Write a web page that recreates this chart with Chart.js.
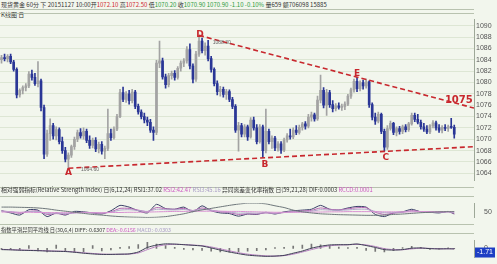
<!DOCTYPE html>
<html>
<head>
<meta charset="utf-8">
<script src="https://cdn.jsdelivr.net/npm/chart.js@4.4.0/dist/chart.umd.min.js"></script>
<style>
body { margin:0; width:497px; height:264px; overflow:hidden; position:relative; background:#f2f6ed; font-family:"Noto Sans CJK SC","Noto Sans",sans-serif; }
.txt { position:absolute; left:1px; font-size:6px; line-height:8px; color:#333; white-space:nowrap; }
.r { color:#d0262e; } .g { color:#2a9a3a; } .pk { color:#cc55c0; } .lt { color:#a99cc6; }
.hl { position:absolute; left:0; width:474px; height:0; border-top:1px solid #b8c2af; }
canvas { position:absolute; left:0; }
</style>
</head>
<body>
<div class="txt" style="top:1px">现货黄金 60分 下 20151127 10:00开<span class="r">1072.10</span> 高<span class="r">1072.50</span> 低<span class="g">1070.20</span> 收<span class="g">1070.90</span> <span class="g">1070.90 -1.10 -0.10%</span> 量659 额706098 15885</div>
<div class="hl" style="top:9px"></div>
<div class="txt" style="top:11px">K线图 日</div>
<div class="hl" style="top:13px"></div>
<canvas id="main" width="497" height="174" style="top:13px"></canvas>
<div class="hl" style="top:187px"></div>
<div class="txt" style="top:186px;font-size:5.8px">相对强弱指标(Relative Strength Index) 日(6,12,24) RSI1:37.02 <span class="pk">RSI2:42.47</span> <span class="lt">RSI3:45.16</span> 异同离差变化率指数 日(59,21,28) DIF:0.0003 <span class="pk">RCCD:0.0001</span></div>
<div class="hl" style="top:196px"></div>
<canvas id="rsi" width="497" height="27" style="top:197px"></canvas>
<div class="hl" style="top:224px"></div>
<div class="txt" style="top:226px;font-size:5.3px">指数平滑异同平均线 日(30,6,4) DIFF:-0.6307 <span class="pk">DEA:-0.6156</span> <span class="lt">MACD:-0.0303</span></div>
<div class="hl" style="top:233px"></div>
<canvas id="macd" width="497" height="30" style="top:234px"></canvas>

<script>
// 60 min candles, oldest first
var opens = [1084.0,1084.4,1084.2,1084.6,1083.6,1082.3,1077.8,1078.6,1079.1,1079.4,
  1081.5,1080.9,1079.8,1080.3,1075.6,1067.4,1071.0,1072.4,1070.6,1071.7,
  1069.6,1068.0,1066.5,1067.2,1068.7,1070.0,1071.2,1070.6,1071.4,1069.8,
  1068.9,1069.8,1068.3,1069.1,1067.9,1068.4,1071.0,1070.3,1071.8,1074.0,
  1078.2,1077.0,1078.0,1076.8,1078.3,1075.8,1074.8,1074.0,1073.4,1073.0,
  1071.6,1071.2,1083.4,1083.8,1081.0,1079.6,1081.2,1081.6,1080.9,1082.5,
  1083.4,1083.8,1085.8,1082.9,1080.6,1085.0,1087.3,1085.6,1086.4,1084.2,
  1082.3,1079.8,1078.4,1078.8,1077.9,1078.4,1077.0,1075.8,1071.6,1072.4,
  1070.9,1072.2,1070.4,1073.4,1072.0,1069.6,1072.2,1068.0,1071.4,1069.6,
  1070.2,1068.5,1069.2,1068.1,1069.9,1070.6,1070.4,1071.6,1071.2,1072.1,
  1072.7,1072.3,1073.9,1074.3,1073.6,1076.9,1078.6,1076.0,1078.2,1076.1,
  1075.4,1075.9,1075.6,1075.8,1076.2,1077.6,1078.7,1080.2,1078.9,1080.0,
  1079.4,1080.1,1076.1,1073.9,1073.2,1074.4,1071.4,1068.6,1071.9,1072.8,
  1071.2,1071.9,1071.4,1072.2,1071.7,1072.7,1074.2,1073.5,1073.0,1072.2,
  1071.8,1071.3,1072.4,1072.9,1072.0,1071.6,1072.1,1071.9,1072.2,1072.1];
var highs = [1084.8,1085.0,1084.9,1085.0,1083.9,1082.6,1078.9,1079.4,1079.8,1081.9,
  1082.2,1081.6,1083.7,1080.6,1076.0,1071.6,1073.6,1072.8,1072.2,1072.0,
  1070.4,1068.6,1067.6,1069.0,1070.4,1071.6,1071.9,1072.0,1071.8,1070.6,
  1070.2,1070.3,1069.5,1069.6,1068.8,1075.3,1071.8,1072.2,1074.4,1078.8,
  1079.2,1078.4,1078.6,1078.8,1078.6,1076.2,1075.2,1074.6,1073.9,1073.5,
  1072.2,1083.9,1087.3,1084.3,1081.5,1081.6,1082.0,1082.1,1082.8,1083.8,
  1084.2,1086.3,1086.8,1083.3,1085.5,1088.3,1087.8,1087.0,1087.4,1084.6,
  1082.6,1080.3,1079.3,1079.2,1078.8,1078.7,1077.4,1076.1,1073.0,1072.8,
  1072.6,1072.5,1073.8,1073.9,1072.6,1072.6,1072.5,1075.3,1071.8,1070.6,
  1070.5,1069.6,1069.6,1070.2,1071.0,1071.8,1072.0,1072.4,1072.5,1073.0,
  1073.1,1074.4,1074.8,1074.6,1077.6,1081.3,1079.1,1078.8,1078.6,1076.8,
  1076.3,1076.4,1076.2,1076.6,1077.9,1079.0,1080.6,1080.9,1080.3,1080.4,
  1080.6,1080.3,1076.4,1074.6,1074.8,1074.6,1071.8,1072.4,1073.2,1073.0,
  1072.2,1072.3,1072.5,1072.6,1073.0,1074.6,1074.6,1074.4,1073.4,1072.8,
  1072.4,1072.6,1073.3,1073.2,1072.6,1072.4,1072.6,1072.5,1073.7,1072.5];
var lows = [1083.4,1083.8,1083.6,1083.3,1082.0,1077.3,1077.4,1078.0,1078.5,1079.1,
  1080.4,1079.5,1079.2,1075.0,1066.6,1067.0,1069.8,1070.0,1069.9,1069.2,
  1067.5,1066.0,1064.6,1066.8,1068.2,1069.6,1070.2,1070.0,1069.4,1068.4,
  1068.5,1067.8,1067.6,1067.4,1066.6,1068.0,1069.8,1070.0,1071.5,1073.8,
  1076.6,1076.5,1076.2,1076.4,1075.4,1074.4,1073.6,1072.9,1072.4,1071.2,
  1069.8,1070.8,1082.6,1080.6,1079.0,1079.2,1080.6,1080.4,1080.6,1082.0,
  1082.8,1083.4,1082.4,1079.9,1080.2,1084.6,1085.2,1084.8,1083.8,1081.8,
  1079.4,1077.8,1077.6,1077.4,1077.0,1076.6,1075.4,1071.2,1067.9,1070.4,
  1070.4,1069.8,1070.2,1071.6,1069.2,1069.3,1066.8,1067.6,1069.2,1068.4,
  1068.0,1067.9,1067.5,1067.8,1069.5,1070.0,1070.1,1070.8,1070.9,1071.6,
  1071.8,1072.0,1073.2,1073.2,1073.3,1076.4,1075.5,1074.2,1075.6,1074.8,
  1075.0,1075.3,1075.1,1075.2,1075.9,1077.2,1078.3,1078.4,1078.5,1078.8,
  1079.0,1075.6,1073.4,1072.6,1072.9,1071.0,1067.9,1068.2,1071.6,1070.8,
  1070.6,1070.9,1071.0,1071.3,1071.4,1072.5,1073.1,1072.7,1071.8,1071.4,
  1071.0,1071.0,1072.0,1071.6,1071.2,1071.1,1071.5,1071.4,1071.9,1070.2];
var closes = [1084.4,1084.2,1084.6,1083.6,1082.3,1077.8,1078.6,1079.1,1079.4,1081.5,
  1080.9,1079.8,1080.3,1075.6,1067.4,1071.0,1072.4,1070.6,1071.7,1069.6,
  1068.0,1066.5,1067.2,1068.7,1070.0,1071.2,1070.6,1071.4,1069.8,1068.9,
  1069.8,1068.3,1069.1,1067.9,1068.4,1071.0,1070.3,1071.8,1074.0,1078.2,
  1077.0,1078.0,1076.8,1078.3,1075.8,1074.8,1074.0,1073.4,1073.0,1071.6,
  1071.2,1083.4,1083.8,1081.0,1079.6,1081.2,1081.6,1080.9,1082.5,1083.4,
  1083.8,1085.8,1082.9,1080.6,1085.0,1087.3,1085.6,1086.4,1084.2,1082.3,
  1079.8,1078.4,1078.8,1077.9,1078.4,1077.0,1075.8,1071.6,1072.4,1070.9,
  1072.2,1070.4,1073.4,1072.0,1069.6,1072.2,1068.0,1071.4,1069.6,1070.2,
  1068.5,1069.2,1068.1,1069.9,1070.6,1070.4,1071.6,1071.2,1072.1,1072.7,
  1072.3,1073.9,1074.3,1073.6,1076.9,1078.6,1076.0,1078.2,1076.1,1075.4,
  1075.9,1075.6,1075.8,1076.2,1077.6,1078.7,1080.2,1078.9,1080.0,1079.4,
  1080.1,1076.1,1073.9,1073.2,1074.4,1071.4,1068.6,1071.9,1072.8,1071.2,
  1071.9,1071.4,1072.2,1071.7,1072.7,1074.2,1073.5,1073.0,1072.2,1071.8,
  1071.3,1072.4,1072.9,1072.0,1071.6,1072.1,1071.9,1072.2,1072.1,1070.9];
var priceTicks = [1064,1066,1068,1070,1072,1074,1076,1078,1080,1082,1084,1086,1088,1090];

// trend lines (candle index, price)
var upperLine = [[65, 1088.3], [155.5, 1075.5]];
var lowerLine = [[22, 1064.9], [155.5, 1068.7]];

// indicator panels, read every 3rd candle
var indX = [0,3,6,9,12,15,18,21,24,27,30,33,36,39,42,45,48,51,54,57,60,63,66,69,72,75,78,81,84,87,
  90,93,96,99,102,105,108,111,114,117,120,123,126,129,132,135,138,141,144,147,149];
var rsi1 = [55,45,35,60,58,28,45,35,52,50,45,40,55,80,72,55,45,85,65,62,72,50,78,55,45,42,30,40,38,48,
  40,50,55,58,62,80,62,58,68,75,72,38,28,45,50,62,50,48,45,52,40];
var rsi2 = [54,50,43,52,54,38,42,39,46,48,46,43,50,66,66,58,51,70,64,62,66,56,68,58,50,46,38,41,40,45,
  42,47,51,54,57,68,62,59,64,69,69,48,38,44,48,56,51,49,47,50,43];
var rsi3 = [53,51,47,51,52,43,44,42,45,47,46,45,48,58,60,56,52,62,60,59,61,56,62,57,52,49,44,45,44,46,
  44,47,49,51,53,60,58,57,59,62,62,52,46,47,49,53,51,50,49,50,47];
var difSlow = [72,72,71,70,68,64,58,53,48,43,38,35,31,28,26,25,24,25,28,34,41,51,59,66,73,80,86,90,90,87,
  78,70,58,50,45,41,39,37,36,35,34,34,35,38,40,43,46,48,50,51,51];
var rccd = [49,49,48,48,47,47,46,46,46,46,46,46,47,47,48,48,49,50,51,52,52,53,53,53,53,52,52,51,50,49,
  48,48,48,48,49,49,50,50,51,51,51,51,50,50,50,50,51,51,51,51,51];
var macdDiff = [-0.5,-0.6,-0.75,-0.85,-0.95,-1.1,-1.2,-1.3,-1.6,-2.0,-2.3,-2.5,-2.5,-2.4,-2.3,-1.5,0.4,1.4,1.9,1.8,
  1.55,1.3,1.0,0.2,-0.7,-1.5,-2.2,-2.8,-3.1,-3.3,-3.2,-2.9,-2.0,-1.1,0.1,0.9,1.45,1.55,1.55,1.85,
  1.2,0.4,-0.5,-0.7,-0.5,0.1,0.2,-0.1,-0.2,-0.15,-0.2];
var macdDea = [-0.4,-0.5,-0.65,-0.75,-0.85,-1.0,-1.1,-1.2,-1.45,-1.8,-2.1,-2.35,-2.45,-2.45,-2.35,-1.9,-0.5,0.8,1.5,1.7,
  1.6,1.4,1.15,0.6,-0.2,-1.0,-1.8,-2.4,-2.8,-3.1,-3.2,-3.0,-2.4,-1.5,-0.5,0.4,1.1,1.4,1.5,1.7,
  1.45,0.8,-0.1,-0.5,-0.55,-0.2,0.1,0.0,-0.15,-0.15,-0.18];
var macdHist = [-0.4,-0.5,-0.6,1.2,-1.0,-1.5,1.4,-1.2,-1.6,-1.4,1.2,-1.0,-0.6,0.5,0.8,1.6,2.5,1.8,1.2,0.5,
  -0.4,-0.6,-0.8,-1.2,-1.5,-1.6,-1.4,-1.2,-0.9,-0.6,0.3,0.5,1.0,1.4,1.8,1.5,1.2,0.6,0.3,0.5,
  -0.8,-1.3,-1.5,-0.9,0.3,0.9,0.5,-0.4,-0.3,0.2,-0.1];

var upCol = "#a3a3a3", downCol = "#2a3696", redCol = "#c8282e";
var tickFont = { family: "Liberation Sans", size: 7 };

// text marks on the price chart, in data coordinates
var notes = [
  { t: "A", i: 22, p: 1064.1, f: "bold 9px 'DejaVu Sans'", c: redCol },
  { t: "B", i: 86.7, p: 1065.6, f: "bold 9px 'DejaVu Sans'", c: redCol },
  { t: "C", i: 126.5, p: 1066.8, f: "bold 9px 'DejaVu Sans'", c: redCol },
  { t: "D", i: 65.3, p: 1088.4, f: "bold 9px 'DejaVu Sans'", c: redCol },
  { t: "E", i: 117, p: 1081.5, f: "bold 9px 'DejaVu Sans'", c: redCol },
  { t: "1075", i: 150.5, p: 1076.9, f: "bold 10px 'DejaVu Sans'", c: redCol },
  { t: "1064.60", i: 29.1, p: 1064.65, f: "5px 'Liberation Sans'", c: "#666" },
  { t: "1088.30", i: 72.5, p: 1087.1, f: "5px 'Liberation Sans'", c: "#666" }
];

var notePlugin = {
  id: "notes",
  afterDatasetsDraw: function (chart) {
    var ctx = chart.ctx, x = chart.scales.x, y = chart.scales.y;
    ctx.save();
    ctx.textAlign = "center";
    ctx.textBaseline = "middle";
    notes.forEach(function (n) {
      ctx.font = n.f;
      ctx.fillStyle = n.c;
      ctx.fillText(n.t, x.getPixelForValue(n.i), y.getPixelForValue(n.p));
    });
    ctx.restore();
  }
};

function fixWidth(s) { s.width = 23; }
function plainTick(v) { return String(v); }

var isUp = closes.map(function (c, i) { return c >= opens[i]; });
var candleCols = isUp.map(function (u) { return u ? upCol : downCol; });

new Chart(document.getElementById("main"), {
  type: "bar",
  data: {
    datasets: [
      {
        type: "line",
        data: upperLine.map(function (p) { return { x: p[0], y: p[1] }; }),
        borderColor: redCol, borderWidth: 1.6, borderDash: [5, 3], pointRadius: 0, order: -1
      },
      {
        type: "line",
        data: lowerLine.map(function (p) { return { x: p[0], y: p[1] }; }),
        borderColor: redCol, borderWidth: 1.6, borderDash: [5, 3], pointRadius: 0, order: -1
      },
      {
        data: opens.map(function (o, i) { return { x: i, y: [Math.min(o, closes[i]), Math.max(o, closes[i])] }; }),
        backgroundColor: candleCols, barThickness: 2, grouped: false, minBarLength: 1, order: 0
      },
      {
        data: highs.map(function (h, i) { return { x: i, y: [lows[i], h] }; }),
        backgroundColor: candleCols, barThickness: 1, grouped: false, order: 1
      }
    ]
  },
  options: {
    responsive: false, animation: false, devicePixelRatio: 1, events: [],
    layout: { padding: 0 },
    plugins: { legend: { display: false }, tooltip: { enabled: false } },
    scales: {
      x: { type: "linear", display: false, min: -0.5, max: 155.5, offset: false },
      y: {
        position: "right", min: 1062.69, max: 1091.14,
        afterBuildTicks: function (s) { s.ticks = priceTicks.map(function (v) { return { value: v }; }); },
        afterFit: fixWidth,
        grid: { color: "#dde6d4", drawTicks: false },
        border: { display: true, color: "#9ea898" },
        ticks: { font: tickFont, color: "#555", padding: 2, callback: plainTick }
      }
    }
  },
  plugins: [notePlugin]
});

function lineSet(vals, col) {
  return {
    type: "line",
    data: vals.map(function (v, k) { return { x: indX[k], y: v }; }),
    borderColor: col, borderWidth: 1, pointRadius: 0, tension: 0.2
  };
}

new Chart(document.getElementById("rsi"), {
  type: "line",
  data: {
    datasets: [
      lineSet(difSlow, "#6d767a"),
      lineSet(rccd, "#d890d2"),
      lineSet(rsi3, "#b2a7cc"),
      lineSet(rsi2, "#b467b4"),
      lineSet(rsi1, "#3b4068")
    ]
  },
  options: {
    responsive: false, animation: false, devicePixelRatio: 1, events: [],
    layout: { padding: 0 },
    plugins: { legend: { display: false }, tooltip: { enabled: false } },
    scales: {
      x: { type: "linear", display: false, min: -0.5, max: 155.5 },
      y: {
        position: "right", min: 22.5, max: 90,
        afterBuildTicks: function (s) { s.ticks = [{ value: 50 }]; },
        afterFit: fixWidth,
        grid: { display: false },
        border: { display: true, color: "#9ea898" },
        ticks: { font: tickFont, color: "#555", padding: 2, callback: plainTick }
      }
    }
  }
});

var lastTag = {
  id: "lastTag",
  afterDraw: function (chart) {
    var ctx = chart.ctx, y = chart.scales.y.getPixelForValue(-1.71);
    var x0 = chart.chartArea.right + 1;
    ctx.save();
    ctx.fillStyle = "#1d3ec4";
    ctx.fillRect(x0, y - 5, 20, 10);
    ctx.fillStyle = "#fff";
    ctx.font = "7px 'Liberation Sans'";
    ctx.textBaseline = "middle";
    ctx.fillText("-1.71", x0 + 2, y);
    ctx.restore();
  }
};

new Chart(document.getElementById("macd"), {
  type: "bar",
  data: {
    datasets: [
      Object.assign(lineSet(macdDea, "#b57fbf"), { order: -2 }),
      Object.assign(lineSet(macdDiff, "#3e3f55"), { order: -3 }),
      {
        data: macdHist.map(function (v, k) { return { x: indX[k], y: v }; }),
        backgroundColor: "#777", barThickness: 1, grouped: false
      }
    ]
  },
  options: {
    responsive: false, animation: false, devicePixelRatio: 1, events: [],
    layout: { padding: 0 },
    plugins: { legend: { display: false }, tooltip: { enabled: false } },
    scales: {
      x: { type: "linear", display: false, min: -0.5, max: 155.5, offset: false },
      y: {
        position: "right", min: -3.91, max: 3.42,
        afterBuildTicks: function (s) { s.ticks = [{ value: 0 }]; },
        afterFit: fixWidth,
        grid: { display: false },
        border: { display: true, color: "#9ea898" },
        ticks: { font: tickFont, color: "#555", padding: 2, callback: plainTick }
      }
    }
  },
  plugins: [lastTag]
});
</script>
</body>
</html>
